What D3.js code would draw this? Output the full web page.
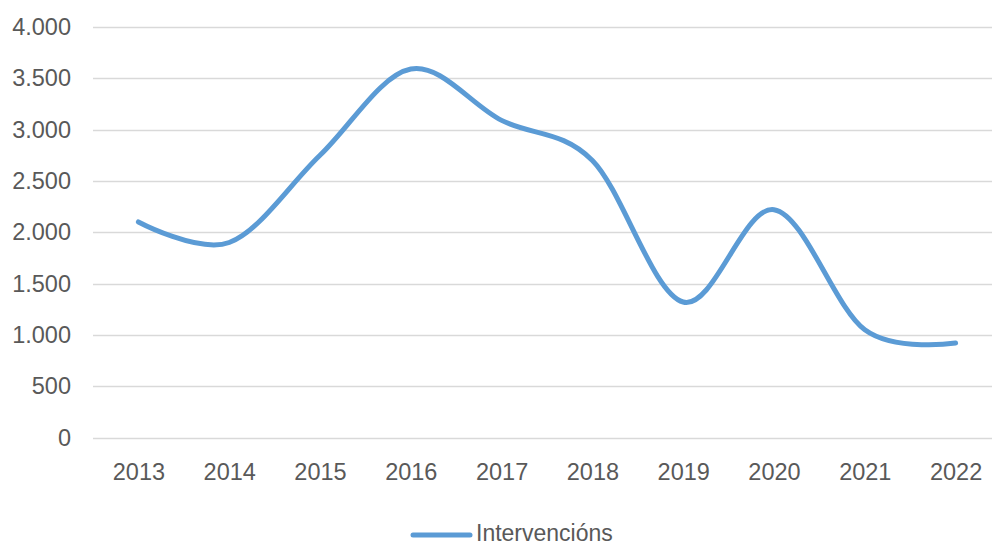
<!DOCTYPE html>
<html><head><meta charset="utf-8">
<script src="https://cdn.jsdelivr.net/npm/d3@7"></script>
<style>html,body{margin:0;padding:0;background:#fff;}svg{display:block;}</style>
</head><body>
<svg id="c" width="992" height="545"></svg>
<script>
const years = ["2013","2014","2015","2016","2017","2018","2019","2020","2021","2022"];
const values = [2100, 1900, 2750, 3590, 3090, 2700, 1320, 2220, 1050, 920];
const yTicks = [0, 500, 1000, 1500, 2000, 2500, 3000, 3500, 4000];
const seriesName = "Intervencións";

const svg = d3.select("#c");
const W = 992, H = 545;
const font = "'Liberation Sans', Arial, sans-serif";
const x = d3.scalePoint().domain(years).range([93, 1001]).padding(0.5);
const y = d3.scaleLinear().domain([0, 4000]).range([437.5, 27]);
const fmt = v => d3.format(",")(v).replace(/,/g, ".");

// gridlines
svg.append("g").selectAll("line").data(yTicks).join("line")
  .attr("x1", 93).attr("x2", W)
  .attr("y1", d => Math.round(y(d)) + 0.5).attr("y2", d => Math.round(y(d)) + 0.5)
  .attr("stroke", "#d9d9d9").attr("stroke-width", 1.5);

// y axis labels
const yAxis = d3.axisLeft(y).tickValues(yTicks).tickFormat(fmt).tickSize(0).tickPadding(0);
const gy = svg.append("g").attr("transform", "translate(71,0)").call(yAxis);
gy.select(".domain").remove();
gy.selectAll("text").attr("font-family", font).attr("font-size", 23.5).attr("fill", "#595959");

// x axis labels
const xAxis = d3.axisBottom(x).tickSize(0).tickPadding(0);
const gx = svg.append("g").attr("transform", "translate(0,463)").call(xAxis);
gx.select(".domain").remove();
gx.selectAll("text").attr("font-family", font).attr("font-size", 23.5).attr("fill", "#595959");

// line
const line = d3.line().x((d, i) => x(years[i])).y(d => y(d)).curve(d3.curveCardinal.tension(0));
svg.append("path").datum(values).attr("d", line)
  .attr("fill", "none").attr("stroke", "#5b9bd5").attr("stroke-width", 5)
  .attr("stroke-linecap", "round").attr("stroke-linejoin", "round");

// legend
const lg = svg.append("g");
lg.append("line").attr("x1", 413).attr("x2", 470).attr("y1", 535).attr("y2", 535)
  .attr("stroke", "#5b9bd5").attr("stroke-width", 5).attr("stroke-linecap", "round");
lg.append("text").attr("x", 476).attr("y", 533).attr("dy", "0.35em")
  .attr("font-family", font).attr("font-size", 23).attr("fill", "#595959").text(seriesName);
</script>
</body></html>
